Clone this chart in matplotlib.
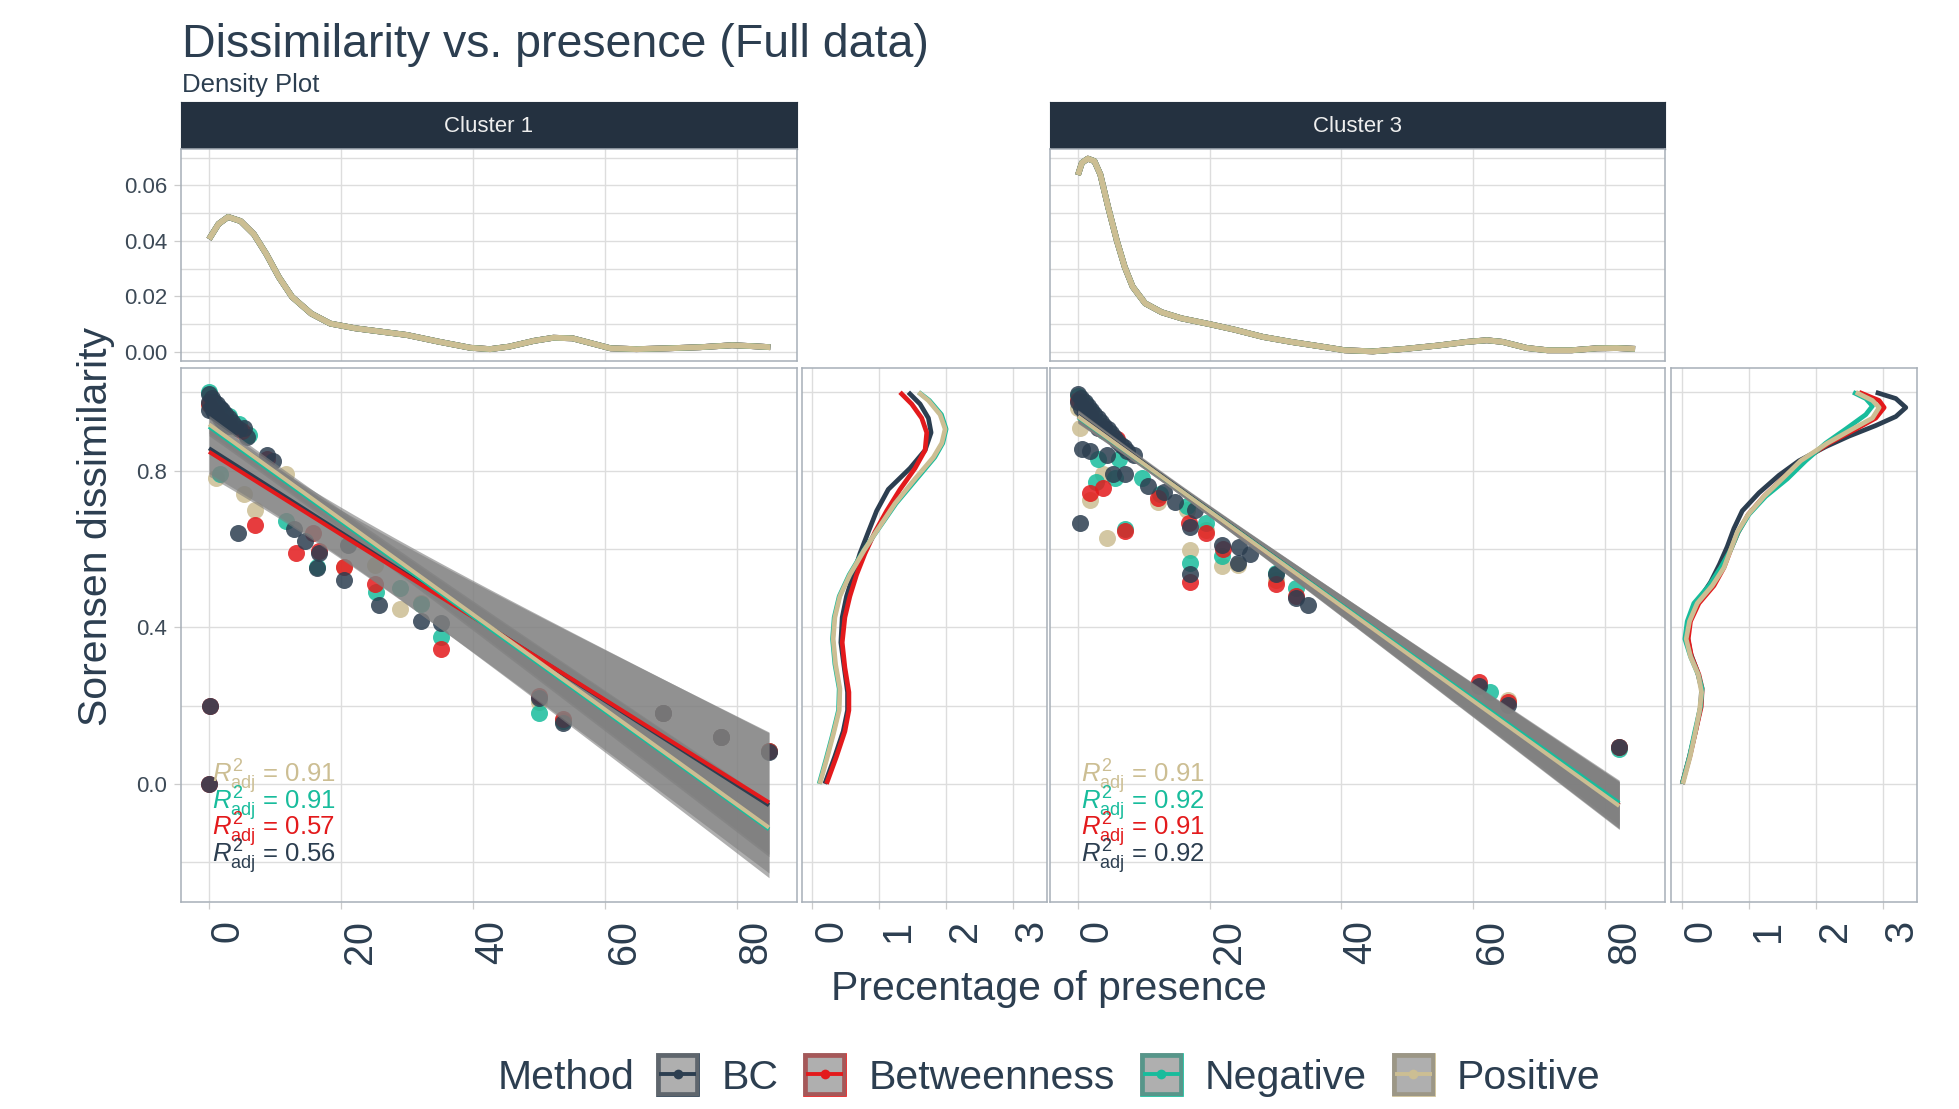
import numpy as np
import matplotlib
matplotlib.use("Agg")
import matplotlib.pyplot as plt
from matplotlib.patches import Rectangle

plt.rcParams['font.family'] = ['Liberation Sans', 'DejaVu Sans']
plt.rcParams['mathtext.fontset'] = 'custom'
plt.rcParams['mathtext.rm'] = 'Liberation Sans'
plt.rcParams['mathtext.it'] = 'Liberation Sans:italic'
plt.rcParams['mathtext.bf'] = 'Liberation Sans:bold'

# ------------------------------------------------------------------ data
methods = ["BC", "Betweenness", "Negative", "Positive"]
method_colors = ["#2c3e50", "#e31a1c", "#18BC9C", "#CCBE93"]
cluster_names = ["Cluster 1", "Cluster 3"]

# (percentage of presence, Sorensen dissimilarity)
c1_bc = [(0.0, 0.995), (0.0, 0.975), (0.0, 0.955), (0.4, 0.985), (0.4, 0.96), (0.8, 0.975),
         (0.8, 0.95), (1.2, 0.97), (1.2, 0.945), (1.6, 0.96), (1.6, 0.935), (2.0, 0.955),
         (2.0, 0.93), (2.5, 0.945), (2.5, 0.92), (3.0, 0.935), (3.0, 0.915), (3.5, 0.925),
         (4.0, 0.915), (4.5, 0.905), (5.3, 0.91), (5.8, 0.885), (8.8, 0.84), (9.7, 0.825),
         (4.4, 0.64), (12.9, 0.65), (14.5, 0.62), (16.7, 0.59), (16.3, 0.55), (20.4, 0.52),
         (21.1, 0.61), (25.8, 0.456), (32.1, 0.415), (35.2, 0.41), (0.2, 0.20), (0.0, 0.0),
         (50.0, 0.22), (53.7, 0.155), (68.8, 0.18), (77.6, 0.12), (84.9, 0.082)]
c1_btw = [(0.0, 0.97), (1.0, 0.95), (2.0, 0.93), (3.0, 0.92), (5.0, 0.90), (8.8, 0.83),
          (6.9, 0.66), (13.2, 0.59), (15.7, 0.64), (16.7, 0.595), (20.4, 0.555), (25.1, 0.51),
          (35.2, 0.345), (50.0, 0.225), (53.7, 0.165), (0.2, 0.20), (0.0, 0.0), (68.8, 0.18),
          (77.6, 0.12), (84.9, 0.085)]
c1_neg = [(0.0, 1.0), (0.5, 0.98), (1.5, 0.96), (3.0, 0.94), (4.5, 0.92), (6.0, 0.89),
          (1.6, 0.79), (11.6, 0.67), (16.3, 0.555), (25.3, 0.49), (28.9, 0.50), (32.1, 0.46),
          (35.2, 0.375), (50.0, 0.18), (53.7, 0.16), (68.8, 0.18), (77.6, 0.12), (84.9, 0.085)]
c1_pos = [(0.0, 0.97), (2.0, 0.94), (4.0, 0.91), (1.0, 0.78), (5.3, 0.74), (6.9, 0.70),
          (11.6, 0.79), (20.4, 0.555), (25.1, 0.56), (28.9, 0.447), (32.1, 0.462), (50.0, 0.21),
          (53.7, 0.16), (68.8, 0.18), (77.6, 0.12), (84.9, 0.085)]

c3_bc = [(0.0, 0.995), (0.0, 0.975), (0.5, 0.985), (0.5, 0.96), (1.0, 0.975), (1.0, 0.95),
         (1.5, 0.965), (2.0, 0.955), (2.0, 0.93), (2.5, 0.945), (3.0, 0.935), (3.0, 0.91),
         (3.5, 0.925), (4.0, 0.915), (4.5, 0.905), (5.0, 0.895), (5.5, 0.885), (6.0, 0.875),
         (6.5, 0.865), (7.0, 0.86), (7.5, 0.85), (8.5, 0.84), (0.6, 0.856), (1.9, 0.85),
         (4.4, 0.84), (5.3, 0.79), (7.2, 0.79), (0.3, 0.665), (10.6, 0.76), (13.1, 0.745),
         (14.7, 0.72), (17.8, 0.70), (17.0, 0.656), (17.0, 0.536), (21.9, 0.61), (24.4, 0.606),
         (24.3, 0.565), (26.2, 0.588), (30.0, 0.535), (33.1, 0.475), (35.0, 0.457), (60.9, 0.25),
         (65.3, 0.202), (82.2, 0.095)]
c3_btw = [(0.0, 0.98), (1.0, 0.96), (2.0, 0.94), (4.0, 0.91), (6.0, 0.88), (3.8, 0.756),
          (1.9, 0.742), (7.2, 0.645), (12.2, 0.73), (16.9, 0.665), (17.0, 0.515), (19.4, 0.64),
          (22.0, 0.60), (30.0, 0.51), (33.1, 0.48), (60.9, 0.26), (65.3, 0.21), (82.2, 0.095)]
c3_neg = [(0.0, 0.99), (1.0, 0.97), (2.0, 0.95), (4.0, 0.90), (3.1, 0.83), (6.2, 0.83),
          (5.6, 0.78), (2.8, 0.77), (7.2, 0.652), (9.7, 0.78), (12.5, 0.74), (16.6, 0.71),
          (17.0, 0.565), (19.4, 0.665), (21.9, 0.583), (30.0, 0.538), (33.1, 0.50), (62.5, 0.234),
          (82.2, 0.09)]
c3_pos = [(0.0, 0.96), (0.3, 0.91), (2.0, 0.93), (3.8, 0.79), (1.9, 0.724), (4.4, 0.627),
          (12.2, 0.72), (16.6, 0.70), (17.0, 0.597), (19.4, 0.647), (21.9, 0.556), (24.3, 0.56),
          (30.0, 0.52), (65.3, 0.215), (82.2, 0.095)]

# linear fits (BC, Betweenness, Negative, Positive)
c1_intercept = [0.857, 0.848, 0.912, 0.918]
c1_slope = [-0.01074, -0.01055, -0.01211, -0.01213]
c1_band_xc = [10, 10, 8, 8]
c1_band_min = [0.060, 0.058, 0.022, 0.022]
c1_band_end = [0.185, 0.180, 0.070, 0.068]
c1_r2 = [0.56, 0.57, 0.91, 0.91]

c3_intercept = [0.940, 0.937, 0.936, 0.938]
c3_slope = [-0.01210, -0.01205, -0.01198, -0.01210]
c3_band_xc = [12, 12, 12, 12]
c3_band_min = [0.012, 0.012, 0.012, 0.012]
c3_band_end = [0.060, 0.060, 0.058, 0.060]
c3_r2 = [0.92, 0.91, 0.92, 0.91]

# density of presence (shared by all methods)
c1_top = [(0, 0.0406), (1.45, 0.0461), (2.9, 0.0486), (4.8, 0.0471), (6.8, 0.0424), (8.7, 0.0352),
          (10.6, 0.0269), (12.6, 0.0198), (15.5, 0.0138), (18.4, 0.0102), (22.2, 0.0085),
          (26.1, 0.0073), (30, 0.0061), (34.8, 0.0037), (39.6, 0.0015), (42.6, 0.0010),
          (45.5, 0.0019), (49.3, 0.0040), (52.2, 0.0051), (55.1, 0.0049), (58, 0.0031),
          (60.9, 0.0013), (64.8, 0.0010), (69.6, 0.0013), (74.5, 0.0017), (79.3, 0.0024),
          (82.2, 0.0021), (85.1, 0.0017)]
c3_top = [(0, 0.0637), (0.6, 0.0681), (1.5, 0.0696), (2.5, 0.0687), (3.4, 0.0639), (4.6, 0.0520),
          (5.9, 0.0401), (7.1, 0.0306), (8.3, 0.0235), (10.2, 0.0175), (12.7, 0.0143),
          (15.7, 0.0121), (20, 0.0100), (23.8, 0.0080), (28.1, 0.0054), (32.4, 0.0036),
          (36.8, 0.0020), (40.5, 0.0006), (44.8, 0.0002), (49.7, 0.0011), (54.7, 0.0023),
          (59, 0.0036), (62.1, 0.0042), (64.5, 0.0036), (68.2, 0.0014), (71.3, 0.0006),
          (75, 0.0006), (78.8, 0.0013), (81.8, 0.0014), (84.6, 0.0011)]

# density of dissimilarity per method: (dissimilarity, density)
c1_side_bc = [(1.0, 1.435), (0.970, 1.61), (0.934, 1.735), (0.897, 1.775), (0.852, 1.685),
              (0.806, 1.46), (0.752, 1.135), (0.697, 0.96), (0.643, 0.835), (0.588, 0.71),
              (0.534, 0.61), (0.479, 0.51), (0.425, 0.445), (0.361, 0.425), (0.297, 0.475),
              (0.234, 0.525), (0.188, 0.525), (0.134, 0.46), (0.070, 0.335), (0.0, 0.185)]
c1_side_btw = [(1.0, 1.31), (0.970, 1.485), (0.934, 1.635), (0.897, 1.71), (0.852, 1.685),
               (0.806, 1.535), (0.752, 1.31), (0.697, 1.11), (0.643, 0.935), (0.588, 0.785),
               (0.534, 0.66), (0.479, 0.56), (0.425, 0.485), (0.361, 0.445), (0.297, 0.485),
               (0.234, 0.545), (0.188, 0.545), (0.134, 0.485), (0.070, 0.36), (0.0, 0.21)]
c1_side_neg = [(1.0, 1.59), (0.979, 1.75), (0.943, 1.93), (0.906, 2.0), (0.870, 1.95),
               (0.834, 1.83), (0.779, 1.56), (0.716, 1.25), (0.652, 0.99), (0.597, 0.77),
               (0.534, 0.55), (0.479, 0.40), (0.425, 0.325), (0.370, 0.30), (0.306, 0.335),
               (0.243, 0.40), (0.188, 0.39), (0.125, 0.30), (0.061, 0.20), (0.0, 0.10)]
c1_side_pos = [(1.0, 1.585), (0.979, 1.735), (0.943, 1.91), (0.906, 1.985), (0.870, 1.935),
               (0.834, 1.81), (0.779, 1.535), (0.716, 1.235), (0.652, 0.985), (0.597, 0.775),
               (0.534, 0.56), (0.479, 0.41), (0.425, 0.335), (0.370, 0.31), (0.306, 0.345),
               (0.243, 0.41), (0.188, 0.40), (0.125, 0.31), (0.061, 0.21), (0.0, 0.11)]

c3_side_bc = [(1.0, 2.895), (0.984, 3.194), (0.961, 3.343), (0.938, 3.194), (0.915, 2.895),
              (0.888, 2.497), (0.861, 2.149), (0.825, 1.751), (0.788, 1.453), (0.743, 1.154),
              (0.697, 0.905), (0.652, 0.781), (0.606, 0.682), (0.561, 0.567), (0.515, 0.433),
              (0.470, 0.259), (0.425, 0.134), (0.379, 0.085), (0.334, 0.134), (0.288, 0.234),
              (0.243, 0.299), (0.197, 0.284), (0.134, 0.209), (0.070, 0.119), (0.0, 0.01)]
c3_side_btw = [(1.0, 2.647), (0.979, 2.945), (0.961, 3.02), (0.934, 2.895), (0.906, 2.597),
               (0.870, 2.199), (0.825, 1.801), (0.779, 1.502), (0.734, 1.229), (0.688, 0.995),
               (0.643, 0.846), (0.597, 0.731), (0.552, 0.632), (0.506, 0.483), (0.461, 0.259),
               (0.415, 0.134), (0.370, 0.10), (0.325, 0.149), (0.279, 0.259), (0.243, 0.308),
               (0.197, 0.294), (0.134, 0.209), (0.070, 0.124), (0.0, 0.01)]
c3_side_neg = [(1.0, 2.557), (0.984, 2.746), (0.965, 2.846), (0.943, 2.746), (0.906, 2.448),
               (0.870, 2.149), (0.825, 1.851), (0.779, 1.577), (0.734, 1.254), (0.688, 1.005),
               (0.643, 0.846), (0.597, 0.731), (0.552, 0.582), (0.506, 0.408), (0.461, 0.184),
               (0.415, 0.085), (0.370, 0.05), (0.325, 0.134), (0.279, 0.249), (0.243, 0.308),
               (0.197, 0.284), (0.134, 0.199), (0.070, 0.119), (0.0, 0.01)]
c3_side_pos = [(1.0, 2.597), (0.979, 2.846), (0.961, 2.945), (0.934, 2.846), (0.906, 2.547),
               (0.870, 2.174), (0.825, 1.776), (0.779, 1.502), (0.734, 1.229), (0.688, 0.995),
               (0.643, 0.831), (0.597, 0.731), (0.552, 0.632), (0.506, 0.458), (0.461, 0.234),
               (0.415, 0.119), (0.370, 0.07), (0.325, 0.134), (0.279, 0.249), (0.234, 0.299),
               (0.188, 0.269), (0.134, 0.209), (0.070, 0.129), (0.0, 0.02)]

clusters = [
    dict(points=[c1_bc, c1_btw, c1_neg, c1_pos], a=c1_intercept, b=c1_slope,
         xc=c1_band_xc, wmin=c1_band_min, wend=c1_band_end, r2=c1_r2,
         top=c1_top, side=[c1_side_bc, c1_side_btw, c1_side_neg, c1_side_pos]),
    dict(points=[c3_bc, c3_btw, c3_neg, c3_pos], a=c3_intercept, b=c3_slope,
         xc=c3_band_xc, wmin=c3_band_min, wend=c3_band_end, r2=c3_r2,
         top=c3_top, side=[c3_side_bc, c3_side_btw, c3_side_neg, c3_side_pos]),
]

# ------------------------------------------------------------------ figure
W, H, DPI = 1959, 1109, 100
fig = plt.figure(figsize=(W / DPI, H / DPI), dpi=DPI, facecolor='white')

TEXT = '#2c3e50'
STRIP = '#243140'
GRID = '#dddddd'
BORDER = '#a7afb8'
BAND = '#7f7f7f'


def px_axes(x0, y0, x1, y1, **kw):
    return fig.add_axes([x0 / W, 1 - y1 / H, (x1 - x0) / W, (y1 - y0) / H], **kw)


def expand(lo, hi, f=0.05):
    r = hi - lo
    return lo - f * r, hi + f * r


def band_curves(cl, i, xs):
    a, b = cl['a'][i], cl['b'][i]
    xc, w0, we = cl['xc'][i], cl['wmin'][i], cl['wend'][i]
    k = np.sqrt(we ** 2 - w0 ** 2) / (xs.max() - xc)
    fit = a + b * xs
    w = np.sqrt(w0 ** 2 + (k * (xs - xc)) ** 2)
    return fit, fit - w, fit + w


# shared scales across the facets
all_x, all_y, band_lo = [], [], []
for cl in clusters:
    for i, pts in enumerate(cl['points']):
        px = np.array([p[0] for p in pts]); py = np.array([p[1] for p in pts])
        all_x += list(px); all_y += list(py)
        xs = np.linspace(px.min(), px.max(), 200)
        _, lo, hi = band_curves(cl, i, xs)
        band_lo.append(lo.min()); all_y.append(hi.max())
xlim = expand(min(all_x), max(all_x))
ylim = expand(min(min(band_lo), min(all_y)), max(all_y))
top_vals = [d for cl in clusters for _, d in cl['top']]
top_ylim = expand(min(top_vals), max(top_vals))
side_vals = [d for cl in clusters for s in cl['side'] for _, d in s]
side_xlim = expand(min(side_vals), max(side_vals))


def style(ax):
    ax.set_facecolor('white')
    for s in ax.spines.values():
        s.set_color(BORDER)
        s.set_linewidth(1.1)
    ax.set_axisbelow(True)
    ax.grid(which='major', color=GRID, lw=1.0)
    ax.tick_params(which='major', color='#cccccc', length=5, width=0.9, labelcolor=TEXT)
    ax.tick_params(which='minor', length=0)


columns = [(181, 797, 802, 1047), (1050, 1665, 1671, 1917)]

for ci, (cl, (mx0, mx1, sx0, sx1)) in enumerate(zip(clusters, columns)):
    # strip
    sax = px_axes(mx0, 102, mx1, 149)
    sax.set_facecolor(STRIP)
    for s in sax.spines.values():
        s.set_color(STRIP)
    sax.set_xticks([]); sax.set_yticks([])
    sax.text(0.5, 0.47, cluster_names[ci], transform=sax.transAxes, ha='center',
             va='center', color='#eeeeee', fontsize=16)

    # top marginal density
    tax = px_axes(mx0, 149, mx1, 361)
    style(tax)
    tx = [p[0] for p in cl['top']]; td = [p[1] for p in cl['top']]
    for m, col in zip(methods, method_colors):
        tax.plot(tx, td, color=col, lw=4.2, solid_joinstyle='round', solid_capstyle='butt',
                 zorder=3)
    tax.set_xlim(xlim); tax.set_ylim(top_ylim)
    tax.set_xticks([0, 20, 40, 60, 80])
    tax.set_yticks([0, 0.02, 0.04, 0.06])
    tax.set_yticks([0.01, 0.03, 0.05, 0.07], minor=True)
    tax.grid(which='minor', axis='y', color=GRID, lw=1.0)
    tax.tick_params(axis='x', length=0, labelbottom=False)
    if ci == 0:
        tax.set_yticklabels(['0.00', '0.02', '0.04', '0.06'])
        tax.tick_params(axis='y', labelsize=16, pad=5, labelcolor='#3d4a57')
    else:
        tax.tick_params(axis='y', length=0, labelleft=False)

    # main scatter panel
    ax = px_axes(mx0, 368, mx1, 902)
    style(ax)
    for i in [3, 2, 1, 0]:
        pts = cl['points'][i]
        ax.scatter([p[0] for p in pts], [p[1] for p in pts], s=150, color=method_colors[i],
                   alpha=0.85, linewidths=0, zorder=2)
    for i in range(4):
        pts = cl['points'][i]
        px = np.array([p[0] for p in pts])
        xs = np.linspace(px.min(), px.max(), 200)
        fit, lo, hi = band_curves(cl, i, xs)
        ax.fill_between(xs, lo, hi, color=BAND, alpha=0.62, lw=0, zorder=3)
    for i in range(4):
        pts = cl['points'][i]
        px = np.array([p[0] for p in pts])
        xs = np.linspace(px.min(), px.max(), 200)
        fit, _, _ = band_curves(cl, i, xs)
        ax.plot(xs, fit, color=method_colors[i], lw=2.9, solid_capstyle='butt', zorder=4)
    # adjusted R squared labels, stacked from Positive down to BC
    for row, i in enumerate([3, 2, 1, 0]):
        ax.text(0.5, 0.003 - 0.068 * row, r'$R^{2}_{\mathrm{adj}}$' + f' = {cl["r2"][i]:.2f}',
                color=method_colors[i], fontsize=18.5, ha='left', va='baseline', zorder=5)
    ax.set_xlim(xlim); ax.set_ylim(ylim)
    ax.set_xticks([0, 20, 40, 60, 80])
    ax.set_yticks([0, 0.4, 0.8])
    ax.set_yticks([-0.2, 0.2, 0.6, 1.0], minor=True)
    ax.grid(which='minor', axis='y', color=GRID, lw=1.0)
    ax.tick_params(axis='x', labelsize=28.5, pad=8, labelrotation=90)
    for lab in ax.get_xticklabels():
        lab.set_rotation_mode('anchor'); lab.set_ha('right'); lab.set_va('top')
    if ci == 0:
        ax.set_yticklabels(['0.0', '0.4', '0.8'])
        ax.tick_params(axis='y', labelsize=16, pad=5, labelcolor='#3d4a57')
    else:
        ax.tick_params(axis='y', length=0, labelleft=False)

    # side marginal density
    rax = px_axes(sx0, 368, sx1, 902)
    style(rax)
    for i in range(4):
        s = cl['side'][i]
        rax.plot([p[1] for p in s], [p[0] for p in s], color=method_colors[i], lw=3.4,
                 solid_joinstyle='round', solid_capstyle='butt', zorder=3)
    rax.set_xlim(side_xlim); rax.set_ylim(ylim)
    rax.set_xticks([0, 1, 2, 3])
    rax.set_yticks([0, 0.4, 0.8])
    rax.set_yticks([-0.2, 0.2, 0.6, 1.0], minor=True)
    rax.grid(which='minor', axis='y', color=GRID, lw=1.0)
    rax.tick_params(axis='y', length=0, labelleft=False)
    rax.tick_params(axis='x', labelsize=28.5, pad=8, labelrotation=90)
    for lab in rax.get_xticklabels():
        lab.set_rotation_mode('anchor'); lab.set_ha('right'); lab.set_va('top')

# titles
fig.text(182 / W, 1 - 57 / H, 'Dissimilarity vs. presence (Full data)', fontsize=33.5,
         color=TEXT, ha='left', va='baseline')
fig.text(182 / W, 1 - 92 / H, 'Density Plot', fontsize=18.5, color=TEXT, ha='left',
         va='baseline')
fig.text(96 / W, 1 - 527 / H, 'Sorensen dissimilarity', fontsize=29.5, color=TEXT,
         rotation=90, ha='center', va='center')
fig.text(1049 / W, 1 - 989 / H, 'Precentage of presence', fontsize=29.5, color=TEXT,
         ha='center', va='center')

# legend
lax = fig.add_axes([0, 0, 1, 1], zorder=20)
lax.set_xlim(0, W); lax.set_ylim(H, 0); lax.axis('off')
renderer = fig.canvas.get_renderer()
leg_fs = 29.5
items = ['Method'] + methods
widths = []
for s in items:
    t = lax.text(0, 0, s, fontsize=leg_fs)
    widths.append(t.get_window_extent(renderer).width)
    t.remove()
KEY, G_KEY, G_ITEM, G_TITLE = 43, 22, 25, 22
total = widths[0] + sum((G_TITLE if j == 0 else G_ITEM) + KEY + G_KEY + widths[j + 1]
                        for j in range(4))
cx, cy, base = 1049, 1074, 1089
x = cx - total / 2
lax.text(x, base, 'Method', fontsize=leg_fs, color=TEXT, ha='left', va='baseline')
x += widths[0]
for j, (m, col) in enumerate(zip(methods, method_colors)):
    x += G_TITLE if j == 0 else G_ITEM
    lax.add_patch(Rectangle((x + 2, cy - KEY / 2 + 2), KEY - 4, KEY - 4, facecolor='white',
                            edgecolor=col, lw=3.4))
    lax.add_patch(Rectangle((x, cy - KEY / 2), KEY, KEY, facecolor=BAND, alpha=0.62,
                            edgecolor='none'))
    lax.plot([x + 3, x + KEY - 3], [cy, cy], color=col, lw=2.8, solid_capstyle='butt')
    lax.plot([x + KEY / 2], [cy], 'o', ms=7, color=col, mew=0)
    x += KEY + G_KEY
    lax.text(x, base, m, fontsize=leg_fs, color=TEXT, ha='left', va='baseline')
    x += widths[j + 1]

fig.savefig('out.png', dpi=DPI, facecolor='white')
